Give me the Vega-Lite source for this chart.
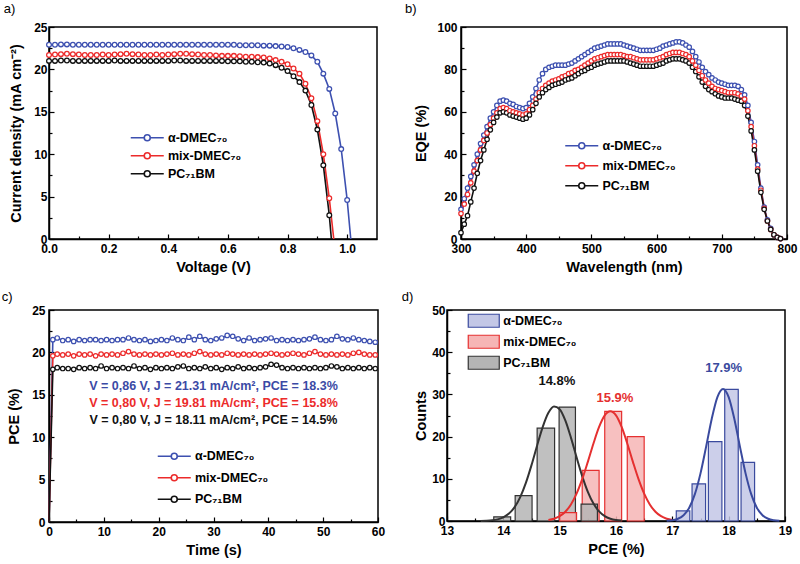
{
"$schema": "https://vega.github.io/schema/vega-lite/v6.json",
"background": "white",
"padding": {"left": 0, "top": 2, "right": 0, "bottom": 0},
"config": {
  "font": "Liberation Sans",
  "view": {"stroke": "#000", "strokeWidth": 1.5},
  "axis": {"grid": false, "domainColor": "#000", "domainWidth": 1.5, "tickColor": "#000", "tickWidth": 1.2, "tickSize": -5, "labelFont": "Liberation Sans", "labelFontWeight": "bold", "labelFontSize": 12, "labelColor": "#000", "titleFont": "Liberation Sans", "titleFontWeight": "bold", "titleFontSize": 14.5, "titleColor": "#000", "labelFlush": false},
  "axisX": {"labelPadding": 9, "titlePadding": 6},
  "axisY": {"labelPadding": 8, "titlePadding": 8},
  "legend": {"labelFont": "Liberation Sans", "labelFontWeight": "bold", "labelFontSize": 12.5, "labelColor": "#000", "padding": 0},
  "title": {"font": "Liberation Sans", "fontSize": 13, "fontWeight": "normal", "anchor": "start", "frame": "bounds", "offset": 5, "color": "#000"}
},
"datasets": {
  "cdata": [
      {"t":0,"a":0,"m":0,"p":0},{"t":0.7,"a":21.5,"m":19.6,"p":18.0},{"t":1.5,"a":21.7,"m":19.8,"p":18.2},{"t":2.5,"a":21.4,"m":19.7,"p":18.1},{"t":3.5,"a":21.5,"m":19.8,"p":18.1},
      {"t":4.5,"a":21.3,"m":19.6,"p":18.0},{"t":5.5,"a":21.5,"m":19.8,"p":18.2},{"t":6.5,"a":21.4,"m":19.7,"p":18.1},{"t":7.5,"a":21.5,"m":19.8,"p":18.2},{"t":8.5,"a":21.5,"m":19.6,"p":18.1},
      {"t":9.5,"a":21.4,"m":19.8,"p":18.4},{"t":10.5,"a":21.5,"m":19.7,"p":18.1},{"t":11.5,"a":21.4,"m":19.8,"p":18.2},{"t":12.5,"a":21.5,"m":19.7,"p":18.1},{"t":13.5,"a":21.5,"m":19.9,"p":18.2},
      {"t":14.5,"a":21.7,"m":20.1,"p":18.1},{"t":15.5,"a":21.5,"m":19.8,"p":18.4},{"t":16.5,"a":21.4,"m":19.7,"p":18.1},{"t":17.5,"a":21.5,"m":19.8,"p":18.2},{"t":18.5,"a":21.3,"m":19.7,"p":18.0},
      {"t":19.5,"a":21.4,"m":19.8,"p":18.2},{"t":20.5,"a":21.5,"m":19.7,"p":18.1},{"t":21.5,"a":21.4,"m":19.8,"p":18.2},{"t":22.5,"a":21.7,"m":19.9,"p":18.1},{"t":23.5,"a":21.5,"m":19.7,"p":18.3},
      {"t":24.5,"a":21.4,"m":19.8,"p":18.4},{"t":25.5,"a":21.8,"m":19.7,"p":18.1},{"t":26.5,"a":21.5,"m":19.9,"p":18.2},{"t":27.5,"a":21.9,"m":20.1,"p":18.1},{"t":28.5,"a":21.5,"m":19.8,"p":18.3},
      {"t":29.5,"a":21.4,"m":19.7,"p":18.1},{"t":30.5,"a":21.6,"m":19.8,"p":18.2},{"t":31.5,"a":21.7,"m":19.7,"p":18.0},{"t":32.5,"a":22.0,"m":19.9,"p":18.2},{"t":33.5,"a":21.9,"m":19.8,"p":18.1},
      {"t":34.5,"a":21.6,"m":19.7,"p":18.3},{"t":35.5,"a":21.4,"m":19.8,"p":18.1},{"t":36.5,"a":21.7,"m":19.7,"p":18.2},{"t":37.5,"a":21.4,"m":19.8,"p":18.1},{"t":38.5,"a":21.5,"m":19.7,"p":18.2},
      {"t":39.5,"a":21.6,"m":19.8,"p":18.3},{"t":40.5,"a":21.7,"m":19.9,"p":18.6},{"t":41.5,"a":21.4,"m":19.8,"p":18.5},{"t":42.5,"a":21.5,"m":19.7,"p":18.2},{"t":43.5,"a":21.4,"m":19.8,"p":18.1},
      {"t":44.5,"a":21.5,"m":19.9,"p":18.2},{"t":45.5,"a":21.4,"m":19.8,"p":18.1},{"t":46.5,"a":21.5,"m":19.7,"p":18.2},{"t":47.5,"a":21.6,"m":19.9,"p":18.1},{"t":48.5,"a":21.8,"m":20.1,"p":18.2},
      {"t":49.5,"a":21.5,"m":19.8,"p":18.1},{"t":50.5,"a":21.4,"m":19.7,"p":18.2},{"t":51.5,"a":21.5,"m":19.8,"p":18.4},{"t":52.5,"a":21.9,"m":19.7,"p":18.3},{"t":53.5,"a":21.6,"m":19.8,"p":18.1},
      {"t":54.5,"a":21.5,"m":19.7,"p":18.2},{"t":55.5,"a":21.7,"m":19.9,"p":18.1},{"t":56.5,"a":21.5,"m":20.0,"p":18.2},{"t":57.5,"a":21.4,"m":19.8,"p":18.1},{"t":58.5,"a":21.3,"m":19.7,"p":18.2},
      {"t":59.5,"a":21.2,"m":19.7,"p":18.1}
  ]
},
"spacing": 15,
"resolve": {"scale": {"color": "independent", "fill": "independent", "stroke": "independent"}, "legend": {"color": "independent", "fill": "independent", "stroke": "independent"}},
"vconcat": [
{"hconcat": [
{
  "width": 328, "height": 212,
  "title": {"text": "a)", "dx": -5},
  "data": {"values": [
    {"v":0.00,"a":22.9,"m":21.7,"p":21.0},{"v":0.02,"a":22.9,"m":21.75,"p":21.0},{"v":0.04,"a":22.95,"m":21.8,"p":21.05},{"v":0.06,"a":22.95,"m":21.85,"p":21.05},{"v":0.08,"a":22.9,"m":21.8,"p":21.0},
    {"v":0.10,"a":22.9,"m":21.75,"p":21.0},{"v":0.12,"a":22.9,"m":21.7,"p":21.0},{"v":0.14,"a":22.9,"m":21.7,"p":21.0},{"v":0.16,"a":22.9,"m":21.7,"p":21.0},{"v":0.18,"a":22.9,"m":21.75,"p":21.0},
    {"v":0.20,"a":22.9,"m":21.7,"p":21.0},{"v":0.22,"a":22.9,"m":21.75,"p":21.05},{"v":0.24,"a":22.9,"m":21.8,"p":21.0},{"v":0.26,"a":22.9,"m":21.85,"p":21.0},{"v":0.28,"a":22.9,"m":21.8,"p":21.0},
    {"v":0.30,"a":22.9,"m":21.75,"p":21.0},{"v":0.32,"a":22.9,"m":21.7,"p":21.0},{"v":0.34,"a":22.9,"m":21.7,"p":21.0},{"v":0.36,"a":22.9,"m":21.75,"p":21.0},{"v":0.38,"a":22.9,"m":21.7,"p":21.0},
    {"v":0.40,"a":22.9,"m":21.75,"p":21.0},{"v":0.42,"a":22.9,"m":21.8,"p":21.05},{"v":0.44,"a":22.9,"m":21.85,"p":21.05},{"v":0.46,"a":22.9,"m":21.85,"p":21.0},{"v":0.48,"a":22.9,"m":21.8,"p":21.0},
    {"v":0.50,"a":22.9,"m":21.75,"p":21.0},{"v":0.52,"a":22.9,"m":21.7,"p":21.0},{"v":0.54,"a":22.9,"m":21.7,"p":21.0},{"v":0.56,"a":22.9,"m":21.65,"p":21.0},{"v":0.58,"a":22.9,"m":21.6,"p":21.0},
    {"v":0.60,"a":22.9,"m":21.6,"p":20.95},{"v":0.62,"a":22.9,"m":21.6,"p":20.95},{"v":0.64,"a":22.85,"m":21.55,"p":20.95},{"v":0.66,"a":22.85,"m":21.5,"p":20.9},{"v":0.68,"a":22.85,"m":21.5,"p":20.9},
    {"v":0.70,"a":22.85,"m":21.45,"p":20.85},{"v":0.72,"a":22.8,"m":21.4,"p":20.8},{"v":0.74,"a":22.8,"m":21.3,"p":20.7},{"v":0.76,"a":22.75,"m":21.1,"p":20.5},{"v":0.78,"a":22.7,"m":20.9,"p":20.2},
    {"v":0.80,"a":22.65,"m":20.6,"p":19.8},{"v":0.82,"a":22.5,"m":20.1,"p":19.2},{"v":0.84,"a":22.3,"m":19.5,"p":18.5},{"v":0.86,"a":22.05,"m":18.3,"p":17.5},{"v":0.88,"a":21.65,"m":16.6,"p":15.8},
    {"v":0.90,"a":20.9,"m":13.9,"p":12.9},{"v":0.92,"a":19.5,"m":10.0,"p":8.7},{"v":0.94,"a":17.7,"m":4.8,"p":2.8},{"v":0.947,"p":0},{"v":0.955,"m":0},
    {"v":0.96,"a":14.8},{"v":0.98,"a":10.6},{"v":1.00,"a":4.6},{"v":1.012,"a":0}
  ]},
  "transform": [{"fold": ["a","m","p"], "as": ["k","j"]}, {"filter": "isValid(datum.j)"}],
  "layer": [
    {"mark": {"type": "line", "strokeWidth": 1.6},
     "encoding": {
       "x": {"field": "v", "type": "quantitative", "scale": {"domain": [0, 1.1], "nice": false}, "axis": {"values": [0,0.2,0.4,0.6,0.8,1.0], "format": ".1f", "title": "Voltage (V)"}},
       "y": {"field": "j", "type": "quantitative", "scale": {"domain": [0, 25], "nice": false}, "axis": {"values": [0,5,10,15,20,25], "title": "Current density (mA cm⁻²)", "labelPadding": 7, "titlePadding": 10}},
       "color": {"field": "k", "type": "nominal", "scale": {"domain": ["a","m","p"], "range": ["#3d50b0","#ec2b2b","#111111"]},
         "legend": {"title": null, "orient": "none", "legendX": 92, "legendY": 104.5, "symbolType": "M-3.3,0H-0.6M0.6,0H3.3M-0.6,0A0.6,0.6,0,1,1,0.6,0A0.6,0.6,0,1,1,-0.6,0", "symbolSize": 100, "symbolStrokeWidth": 1.6, "rowPadding": 5, "labelOffset": 14.5,
           "labelExpr": "datum.value == 'a' ? 'α-DMEC₇₀' : datum.value == 'm' ? 'mix-DMEC₇₀' : 'PC₇₁BM'"}}
     }},
    {"transform": [{"filter": "datum.j > 0"}],
     "mark": {"type": "point", "filled": true, "fill": "white", "size": 22, "strokeWidth": 1.3, "opacity": 1},
     "encoding": {
       "x": {"field": "v", "type": "quantitative", "axis": {"values": [0.1,0.3,0.5,0.7,0.9], "labels": false, "domain": false, "tickSize": -3, "title": null, "orient": "bottom"}},
       "y": {"field": "j", "type": "quantitative", "axis": {"values": [2.5,7.5,12.5,17.5,22.5], "labels": false, "domain": false, "tickSize": -3, "title": null, "orient": "left"}},
       "stroke": {"field": "k", "type": "nominal", "scale": {"domain": ["a","m","p"], "range": ["#3d50b0","#ec2b2b","#111111"]}, "legend": null}
     }}
  ],
  "resolve": {"axis": {"x": "independent", "y": "independent"}}
},
{
  "width": 326, "height": 212,
  "title": {"text": "b)", "dx": -9},
  "data": {"values": [
    {"w":300,"a":14,"m":12,"p":3},{"w":305,"a":19,"m":16.5,"p":7},{"w":310,"a":24,"m":21,"p":11},{"w":315,"a":29.5,"m":26.5,"p":17.5},{"w":320,"a":35,"m":32,"p":24},
    {"w":325,"a":40,"m":37,"p":31},{"w":330,"a":45,"m":42,"p":37},{"w":335,"a":49,"m":46.5,"p":42},{"w":340,"a":53,"m":50,"p":47},{"w":345,"a":57,"m":54,"p":51.5},
    {"w":350,"a":60,"m":57,"p":55},{"w":355,"a":63,"m":59.5,"p":57.5},{"w":360,"a":65,"m":61.5,"p":59.5},{"w":365,"a":65.5,"m":62,"p":60},{"w":370,"a":65,"m":61.5,"p":59.5},
    {"w":375,"a":64,"m":60.5,"p":58.5},{"w":380,"a":63.5,"m":60,"p":58},{"w":385,"a":62.5,"m":59.5,"p":57.5},{"w":390,"a":62,"m":59,"p":57},{"w":395,"a":61.5,"m":58.5,"p":56.5},
    {"w":400,"a":62,"m":59,"p":57},{"w":405,"a":64,"m":61,"p":58.5},{"w":410,"a":67,"m":63,"p":61},{"w":415,"a":71,"m":66,"p":64},{"w":420,"a":75,"m":69,"p":67},
    {"w":425,"a":78,"m":71,"p":69},{"w":430,"a":80,"m":72.5,"p":70.5},{"w":435,"a":81,"m":73.5,"p":71.5},{"w":440,"a":81.5,"m":74.5,"p":72.5},{"w":445,"a":82,"m":75,"p":73},
    {"w":450,"a":82,"m":75.5,"p":73.5},{"w":455,"a":82,"m":76.5,"p":74},{"w":460,"a":82,"m":77,"p":75},{"w":465,"a":82.5,"m":78,"p":75.5},{"w":470,"a":83,"m":78.5,"p":76},
    {"w":475,"a":84,"m":79.5,"p":77},{"w":480,"a":85,"m":80,"p":78},{"w":485,"a":86,"m":81,"p":79},{"w":490,"a":87,"m":82,"p":79.5},{"w":495,"a":88,"m":83,"p":80.5},
    {"w":500,"a":89,"m":84,"p":81},{"w":505,"a":90,"m":85,"p":82},{"w":510,"a":90.5,"m":85.5,"p":82.5},{"w":515,"a":91,"m":86,"p":83},{"w":520,"a":91.5,"m":86.5,"p":83.5},
    {"w":525,"a":92,"m":87,"p":84},{"w":530,"a":92,"m":87,"p":84},{"w":535,"a":92,"m":87,"p":84},{"w":540,"a":92,"m":87,"p":84},{"w":545,"a":92,"m":87,"p":84},
    {"w":550,"a":91.5,"m":86.5,"p":84},{"w":555,"a":91,"m":86,"p":83.5},{"w":560,"a":90.5,"m":86,"p":83},{"w":565,"a":90,"m":85.5,"p":82.5},{"w":570,"a":89.5,"m":85,"p":82},
    {"w":575,"a":89,"m":84.5,"p":81.5},{"w":580,"a":89,"m":84.5,"p":81.5},{"w":585,"a":89,"m":84.5,"p":81.5},{"w":590,"a":89,"m":84.5,"p":81.5},{"w":595,"a":89,"m":84.5,"p":81.5},
    {"w":600,"a":89.5,"m":85,"p":82},{"w":605,"a":90,"m":85.5,"p":82.5},{"w":610,"a":91,"m":86,"p":83},{"w":615,"a":91.5,"m":87,"p":84},{"w":620,"a":92,"m":87.5,"p":84.5},
    {"w":625,"a":92.5,"m":88,"p":85},{"w":630,"a":93,"m":88,"p":85},{"w":635,"a":93,"m":88,"p":85},{"w":640,"a":92.5,"m":87.5,"p":84.5},{"w":645,"a":91.5,"m":87,"p":84},
    {"w":650,"a":90.5,"m":86,"p":83},{"w":655,"a":88.5,"m":84,"p":81},{"w":660,"a":86,"m":82,"p":79},{"w":665,"a":83.5,"m":79.5,"p":76.5},{"w":670,"a":81,"m":77,"p":74},
    {"w":675,"a":79,"m":75,"p":72},{"w":680,"a":77.5,"m":73.5,"p":70.5},{"w":685,"a":76,"m":72,"p":69.5},{"w":690,"a":75,"m":71,"p":68.5},{"w":695,"a":74,"m":70.5,"p":67.5},
    {"w":700,"a":73.5,"m":70,"p":67},{"w":705,"a":73,"m":69.5,"p":66.5},{"w":710,"a":72.5,"m":69,"p":66.5},{"w":715,"a":72.5,"m":69,"p":66.5},{"w":720,"a":72.5,"m":69,"p":66},
    {"w":725,"a":72,"m":68.5,"p":65.5},{"w":730,"a":70.5,"m":67.5,"p":65},{"w":735,"a":68,"m":66,"p":63},{"w":740,"a":63,"m":60.5,"p":58},{"w":745,"a":55,"m":53,"p":51},
    {"w":750,"a":46,"m":44,"p":42},{"w":755,"a":35,"m":33,"p":32},{"w":760,"a":24,"m":23,"p":22},{"w":765,"a":15,"m":14.5,"p":14},{"w":770,"a":9,"m":8.5,"p":8.5},
    {"w":775,"a":5,"m":4.5,"p":4.5},{"w":780,"a":2,"m":2,"p":2},{"w":785,"a":0.8,"m":0.8,"p":0.8},{"w":790,"a":0.2,"m":0.2,"p":0.2}
  ]},
  "transform": [{"fold": ["a","m","p"], "as": ["k","e"]}],
  "layer": [
    {"mark": {"type": "line", "strokeWidth": 1.6},
     "encoding": {
       "x": {"field": "w", "type": "quantitative", "scale": {"domain": [300, 800], "nice": false}, "axis": {"values": [300,400,500,600,700,800], "title": "Wavelength (nm)"}},
       "y": {"field": "e", "type": "quantitative", "scale": {"domain": [0, 100], "nice": false}, "axis": {"values": [0,20,40,60,80,100], "title": "EQE (%)", "labelPadding": 9, "titlePadding": 8}},
       "color": {"field": "k", "type": "nominal", "scale": {"domain": ["a","m","p"], "range": ["#3d50b0","#ec2b2b","#111111"]},
         "legend": {"title": null, "orient": "none", "legendX": 114.5, "legendY": 112.5, "symbolType": "M-3.3,0H-0.6M0.6,0H3.3M-0.6,0A0.6,0.6,0,1,1,0.6,0A0.6,0.6,0,1,1,-0.6,0", "symbolSize": 100, "symbolStrokeWidth": 1.6, "rowPadding": 7, "labelOffset": 14.5,
           "labelExpr": "datum.value == 'a' ? 'α-DMEC₇₀' : datum.value == 'm' ? 'mix-DMEC₇₀' : 'PC₇₁BM'"}}
     }},
    {"mark": {"type": "point", "filled": true, "fill": "white", "size": 20, "strokeWidth": 1.2, "opacity": 1},
     "encoding": {
       "x": {"field": "w", "type": "quantitative", "axis": {"values": [350,450,550,650,750], "labels": false, "domain": false, "tickSize": -3, "title": null, "orient": "bottom"}},
       "y": {"field": "e", "type": "quantitative", "axis": {"values": [10,30,50,70,90], "labels": false, "domain": false, "tickSize": -3, "title": null, "orient": "left"}},
       "stroke": {"field": "k", "type": "nominal", "scale": {"domain": ["a","m","p"], "range": ["#3d50b0","#ec2b2b","#111111"]}, "legend": null}
     }}
  ],
  "resolve": {"axis": {"x": "independent", "y": "independent"}}
}
], "spacing": 26,
 "resolve": {"scale": {"color": "independent", "fill": "independent", "stroke": "independent"}, "legend": {"color": "independent", "fill": "independent", "stroke": "independent"}}},
{"hconcat": [
{
  "width": 329, "height": 212,
  "title": {"text": "c)", "dx": -5, "offset": 0},
  "layer": [
    {"data": {"name": "cdata"},
     "transform": [{"fold": ["a","m","p"], "as": ["k","e"]}],
     "mark": {"type": "line", "strokeWidth": 1.6},
     "encoding": {
       "x": {"field": "t", "type": "quantitative", "scale": {"domain": [0, 60], "nice": false}, "axis": {"values": [0,10,20,30,40,50,60], "title": "Time (s)"}},
       "y": {"field": "e", "type": "quantitative", "scale": {"domain": [0, 25], "nice": false}, "axis": {"values": [0,5,10,15,20,25], "title": "PCE (%)", "labelPadding": 9, "titlePadding": 10}},
       "color": {"field": "k", "type": "nominal", "scale": {"domain": ["a","m","p"], "range": ["#3d50b0","#ec2b2b","#111111"]},
         "legend": {"title": null, "orient": "none", "legendX": 119, "legendY": 140, "symbolType": "M-3.3,0H-0.6M0.6,0H3.3M-0.6,0A0.6,0.6,0,1,1,0.6,0A0.6,0.6,0,1,1,-0.6,0", "symbolSize": 100, "symbolStrokeWidth": 1.6, "rowPadding": 8.5, "labelOffset": 14.5,
           "labelExpr": "datum.value == 'a' ? 'α-DMEC₇₀' : datum.value == 'm' ? 'mix-DMEC₇₀' : 'PC₇₁BM'"}}
     }},
    {"data": {"name": "cdata"},
     "transform": [{"fold": ["a","m","p"], "as": ["k","e"]}, {"filter": "datum.e > 0"}],
     "mark": {"type": "point", "filled": true, "fill": "white", "size": 20, "strokeWidth": 1.2, "opacity": 1},
     "encoding": {
       "x": {"field": "t", "type": "quantitative", "axis": {"values": [5,15,25,35,45,55], "labels": false, "domain": false, "tickSize": -3, "title": null, "orient": "bottom"}},
       "y": {"field": "e", "type": "quantitative", "axis": {"values": [2.5,7.5,12.5,17.5,22.5], "labels": false, "domain": false, "tickSize": -3, "title": null, "orient": "left"}},
       "stroke": {"field": "k", "type": "nominal", "scale": {"domain": ["a","m","p"], "range": ["#3d50b0","#ec2b2b","#111111"]}, "legend": null}
     }},
    {"data": {"values": [
      {"t":30,"y":16.0,"k":"ta","s":"V = 0,86 V, J = 21.31 mA/cm², PCE = 18.3%"},
      {"t":30,"y":14.05,"k":"tm","s":"V = 0,80 V, J = 19.81 mA/cm², PCE = 15.8%"},
      {"t":30,"y":12.0,"k":"tp","s":"V = 0,80 V, J = 18.11 mA/cm², PCE = 14.5%"}
     ]},
     "mark": {"type": "text", "font": "Liberation Sans", "fontWeight": "bold", "fontSize": 12.5, "align": "center", "baseline": "middle"},
     "encoding": {
       "x": {"field": "t", "type": "quantitative", "axis": null},
       "y": {"field": "y", "type": "quantitative", "axis": null},
       "text": {"field": "s"},
       "fill": {"field": "k", "type": "nominal", "scale": {"domain": ["ta","tm","tp"], "range": ["#3b4aa5","#ec2b2b","#111111"]}, "legend": null}
     }}
  ],
  "resolve": {"axis": {"x": "independent", "y": "independent"}}
},
{
  "width": 338, "height": 211,
  "title": {"text": "d)", "dx": -12, "offset": 0},
  "layer": [
    {"data": {"values": [
      {"s":"a","lo":17.07,"hi":17.31,"n":2.4},{"s":"a","lo":17.35,"hi":17.59,"n":8.8},{"s":"a","lo":17.64,"hi":17.88,"n":18.8},{"s":"a","lo":17.93,"hi":18.17,"n":31.2},{"s":"a","lo":18.22,"hi":18.46,"n":13.9},
      {"s":"p","lo":13.83,"hi":14.13,"n":1},{"s":"p","lo":14.21,"hi":14.51,"n":6},{"s":"p","lo":14.6,"hi":14.91,"n":22},{"s":"p","lo":14.99,"hi":15.28,"n":27},
      {"s":"m","lo":15.0,"hi":15.3,"n":2},{"s":"m","lo":15.4,"hi":15.7,"n":12},{"s":"m","lo":15.8,"hi":16.1,"n":26},{"s":"m","lo":16.2,"hi":16.5,"n":20},
      {"s":"p","lo":15.38,"hi":15.67,"n":4}
     ]},
     "mark": {"type": "rect", "strokeWidth": 1.2, "fillOpacity": 0.85},
     "encoding": {
       "x": {"field": "lo", "type": "quantitative", "scale": {"domain": [13, 19], "nice": false}, "axis": {"values": [13,14,15,16,17,18,19], "title": "PCE (%)"}},
       "x2": {"field": "hi"},
       "y": {"field": "n", "type": "quantitative", "scale": {"domain": [0, 50], "nice": false}, "axis": {"values": [0,10,20,30,40,50], "title": "Counts", "labelPadding": 7, "titlePadding": 3}},
       "y2": {"datum": 0},
       "fill": {"field": "s", "type": "nominal", "scale": {"domain": ["a","m","p"], "range": ["#c3c7e6","#f6b5b5","#b5b5b5"]},
         "legend": {"title": null, "orient": "none", "legendX": 30.5, "legendY": 4.5, "symbolType": "M-3.1,-1.3H3.1V1.3H-3.1Z", "symbolSize": 100, "symbolStrokeWidth": 1.2, "rowPadding": 2, "labelOffset": 13.2,
           "labelExpr": "datum.value == 'a' ? 'α-DMEC₇₀' : datum.value == 'm' ? 'mix-DMEC₇₀' : 'PC₇₁BM'"}},
       "stroke": {"field": "s", "type": "nominal", "scale": {"domain": ["a","m","p"], "range": ["#3a4a9e","#e53030","#333333"]},
         "legend": {"title": null, "orient": "none", "legendX": 30.5, "legendY": 4.5, "symbolType": "M-3.1,-1.3H3.1V1.3H-3.1Z", "symbolSize": 100, "symbolStrokeWidth": 1.2, "rowPadding": 2, "labelOffset": 13.2,
           "labelExpr": "datum.value == 'a' ? 'α-DMEC₇₀' : datum.value == 'm' ? 'mix-DMEC₇₀' : 'PC₇₁BM'"}}
     }},
    {"data": {"values": [
      {"s":"p","x":13.6,"y":0.02},{"s":"p","x":13.7,"y":0.06},{"s":"p","x":13.8,"y":0.16},{"s":"p","x":13.9,"y":0.39},{"s":"p","x":14.0,"y":0.86},{"s":"p","x":14.1,"y":1.75},{"s":"p","x":14.2,"y":3.28},{"s":"p","x":14.3,"y":5.67},{"s":"p","x":14.4,"y":9.02},{"s":"p","x":14.5,"y":13.24},{"s":"p","x":14.6,"y":17.91},{"s":"p","x":14.7,"y":22.32},{"s":"p","x":14.8,"y":25.65},{"s":"p","x":14.9,"y":27.16},{"s":"p","x":15.0,"y":26.5},{"s":"p","x":15.1,"y":23.83},{"s":"p","x":15.2,"y":19.75},{"s":"p","x":15.3,"y":15.09},{"s":"p","x":15.4,"y":10.62},{"s":"p","x":15.5,"y":6.89},{"s":"p","x":15.6,"y":4.12},{"s":"p","x":15.7,"y":2.27},{"s":"p","x":15.8,"y":1.15},{"s":"p","x":15.9,"y":0.54},{"s":"p","x":16.0,"y":0.23},{"s":"p","x":16.1,"y":0.09},
      {"s":"m","x":14.8,"y":0.24},{"s":"m","x":14.9,"y":0.55},{"s":"m","x":15.0,"y":1.14},{"s":"m","x":15.1,"y":2.2},{"s":"m","x":15.2,"y":3.93},{"s":"m","x":15.3,"y":6.48},{"s":"m","x":15.4,"y":9.91},{"s":"m","x":15.5,"y":14.02},{"s":"m","x":15.6,"y":18.37},{"s":"m","x":15.7,"y":22.28},{"s":"m","x":15.8,"y":25.02},{"s":"m","x":15.9,"y":26},{"s":"m","x":16.0,"y":25.02},{"s":"m","x":16.1,"y":22.28},{"s":"m","x":16.2,"y":18.37},{"s":"m","x":16.3,"y":14.02},{"s":"m","x":16.4,"y":9.91},{"s":"m","x":16.5,"y":6.48},{"s":"m","x":16.6,"y":3.93},{"s":"m","x":16.7,"y":2.2},{"s":"m","x":16.8,"y":1.14},{"s":"m","x":16.9,"y":0.55},{"s":"m","x":17.0,"y":0.24},
      {"s":"a","x":16.9,"y":0.05},{"s":"a","x":17.0,"y":0.18},{"s":"a","x":17.1,"y":0.53},{"s":"a","x":17.2,"y":1.37},{"s":"a","x":17.3,"y":3.15},{"s":"a","x":17.4,"y":6.36},{"s":"a","x":17.5,"y":11.29},{"s":"a","x":17.6,"y":17.63},{"s":"a","x":17.7,"y":24.25},{"s":"a","x":17.8,"y":29.37},{"s":"a","x":17.9,"y":31.3},{"s":"a","x":18.0,"y":29.37},{"s":"a","x":18.1,"y":24.25},{"s":"a","x":18.2,"y":17.63},{"s":"a","x":18.3,"y":11.29},{"s":"a","x":18.4,"y":6.36},{"s":"a","x":18.5,"y":3.15},{"s":"a","x":18.6,"y":1.37},{"s":"a","x":18.7,"y":0.53},{"s":"a","x":18.8,"y":0.18},{"s":"a","x":18.9,"y":0.05}
     ]},
     "mark": {"type": "line", "strokeWidth": 2, "interpolate": "monotone"},
     "encoding": {
       "x": {"field": "x", "type": "quantitative", "axis": {"values": [13.5,14.5,15.5,16.5,17.5,18.5], "labels": false, "domain": false, "tickSize": -3, "title": null, "orient": "bottom"}},
       "y": {"field": "y", "type": "quantitative", "axis": {"values": [5,15,25,35,45], "labels": false, "domain": false, "tickSize": -3, "title": null, "orient": "left"}},
       "stroke": {"field": "s", "type": "nominal", "scale": {"domain": ["a","m","p"], "range": ["#3a4a9e","#e53030","#333333"]}}
     }},
    {"data": {"values": [
      {"s":"tp","x":14.95,"y":33.2,"t":"14.8%"},
      {"s":"tm","x":15.98,"y":29.2,"t":"15.9%"},
      {"s":"ta","x":17.91,"y":36.2,"t":"17.9%"}
     ]},
     "mark": {"type": "text", "font": "Liberation Sans", "fontWeight": "bold", "fontSize": 13, "align": "center", "baseline": "middle"},
     "encoding": {
       "x": {"field": "x", "type": "quantitative", "axis": null},
       "y": {"field": "y", "type": "quantitative", "axis": null},
       "text": {"field": "t"},
       "color": {"field": "s", "type": "nominal", "scale": {"domain": ["ta","tm","tp"], "range": ["#3a4a9e","#e53030","#111111"]}, "legend": null}
     }}
  ],
  "resolve": {"axis": {"x": "independent", "y": "independent"}}
}
], "spacing": 14,
 "resolve": {"scale": {"color": "independent", "fill": "independent", "stroke": "independent"}, "legend": {"color": "independent", "fill": "independent", "stroke": "independent"}}}
]
}
